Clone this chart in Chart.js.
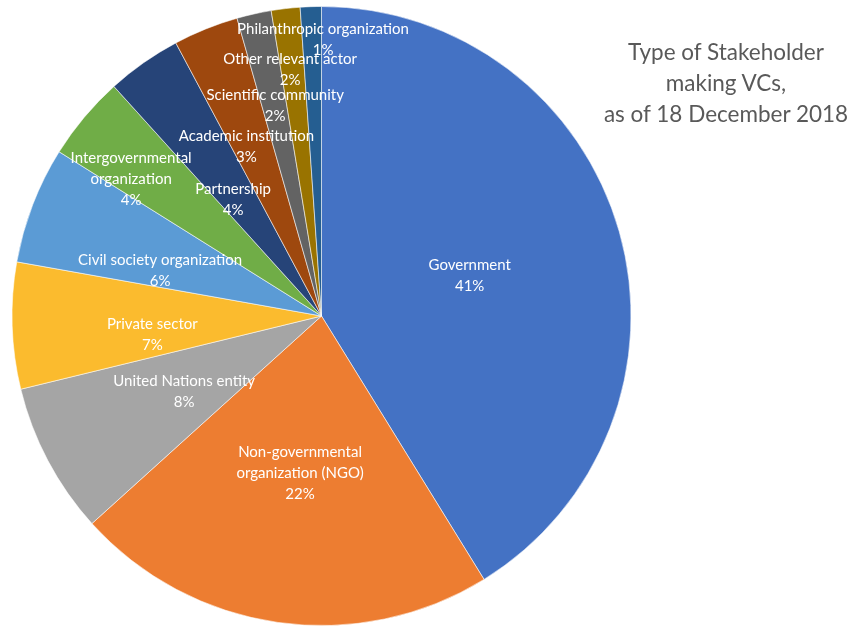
<!DOCTYPE html>
<html>
<head>
<meta charset="utf-8">
<script src="https://cdn.jsdelivr.net/npm/chart.js@4"></script>
<style>
  html, body { margin: 0; padding: 0; background: #fff; }
  #wrap { position: relative; width: 868px; height: 626px; }
  #title {
    position: absolute; left: 596px; top: 36px; width: 260px;
    text-align: center; color: #595959;
    font-family: Lato, sans-serif; font-size: 22.5px; line-height: 31px;
  }
</style>
</head>
<body>
<div id="wrap">
  <canvas id="chartStakeholders"></canvas>
  <div id="title">Type of Stakeholder<br>making VCs,<br>as of 18 December 2018</div>
</div>
<script>
// Stakeholder types (share of voluntary commitments, %)
const categories = [
  'Government',
  'Non-governmental organization (NGO)',
  'United Nations entity',
  'Private sector',
  'Civil society organization',
  'Intergovernmental organization',
  'Partnership',
  'Academic institution',
  'Scientific community',
  'Other relevant actor',
  'Philanthropic organization',
];
const shares = [41.2, 22.1, 7.9, 6.6, 6.1, 4.4, 3.9, 3.4, 1.8, 1.5, 1.1];

// how each label is broken over lines
const labelLines = [
  ['Government'],
  ['Non-governmental', 'organization (NGO)'],
  ['United Nations entity'],
  ['Private sector'],
  ['Civil society organization'],
  ['Intergovernmental', 'organization'],
  ['Partnership'],
  ['Academic institution'],
  ['Scientific community'],
  ['Other relevant actor'],
  ['Philanthropic organization'],
];

const COLORS = [
  '#4472C4', '#ED7D31', '#A5A5A5', '#FBBB2E', '#5B9BD5', '#70AD47',
  '#264478', '#9E480E', '#636363', '#997300', '#255E91',
];

// label placement: fraction of radius, angle shift (deg) from slice middle
const LABEL_R = [0.496, 0.511, 0.507, 0.55, 0.542, 0.757, 0.471, 0.6, 0.697, 0.803, 0.894];
const LABEL_DA = [0.7, -0.3, -1.0, -4.6, -5.2, -4.3, -2.2, -1.9, 0.2, -0.6, 2.3];

const sliceLabels = {
  id: 'sliceLabels',
  afterDatasetsDraw(chart) {
    const ctx = chart.ctx;
    const meta = chart.getDatasetMeta(0);
    const total = shares.reduce((a, b) => a + b, 0);
    ctx.save();
    ctx.fillStyle = '#fff';
    ctx.font = '15px Lato, sans-serif';
    ctx.textAlign = 'center';
    ctx.textBaseline = 'middle';
    meta.data.forEach((arc, i) => {
      const mid = (arc.startAngle + arc.endAngle) / 2 + LABEL_DA[i] * Math.PI / 180;
      const r = arc.outerRadius * LABEL_R[i];
      const cx = arc.x + Math.cos(mid) * r;
      const cy = arc.y + Math.sin(mid) * r;
      const lines = labelLines[i].concat([Math.round(shares[i] / total * 100) + '%']);
      const lh = 21;
      const y0 = cy - (lines.length - 1) * lh / 2;
      lines.forEach((t, k) => ctx.fillText(t, cx, y0 + k * lh));
    });
    ctx.restore();
  }
};

new Chart(document.getElementById('chartStakeholders'), {
  type: 'pie',
  data: {
    labels: categories,
    datasets: [{
      data: shares,
      backgroundColor: COLORS,
      borderColor: 'rgba(255,255,255,0.55)',
      borderWidth: 1,
    }]
  },
  options: {
    responsive: true,
    maintainAspectRatio: false,
    animation: false,
    layout: { padding: { left: 11.5, right: 236.5, top: 6, bottom: 0 } },
    plugins: {
      legend: { display: false },
      tooltip: { enabled: false },
    }
  },
  plugins: [sliceLabels]
});
</script>
</body>
</html>
